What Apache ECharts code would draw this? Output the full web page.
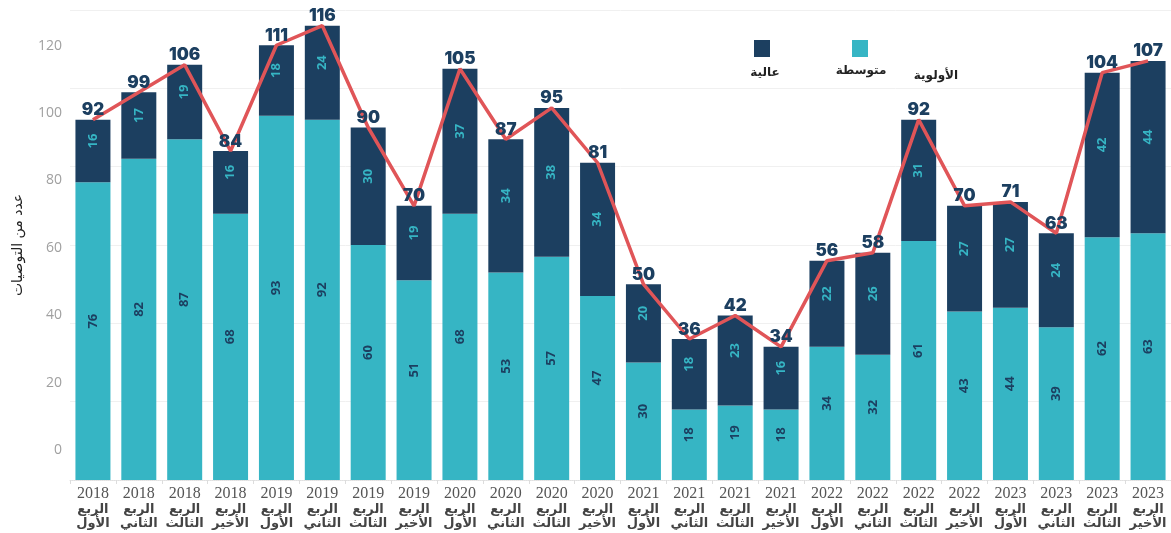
<!DOCTYPE html>
<html>
<head>
<meta charset="utf-8">
<script src="https://cdn.jsdelivr.net/npm/echarts@6/dist/echarts.min.js"></script>
<style>
  html, body { margin: 0; padding: 0; background: #fff; }
  #chart { width: 1171px; height: 533px; }
</style>
</head>
<body>
<div id="chart"></div>
<script>
// years and quarter names for the 24 columns
var years = ['2018','2018','2018','2018','2019','2019','2019','2019','2020','2020','2020','2020',
             '2021','2021','2021','2021','2022','2022','2022','2022','2023','2023','2023','2023'];
var quarters = ['الأول','الثاني','الثالث','الأخير'];

// متوسطة (teal, bottom) and عالية (navy, top)
var medium = [76, 82, 87, 68, 93, 92, 60, 51, 68, 53, 57, 47, 30, 18, 19, 18, 34, 32, 61, 43, 44, 39, 62, 63];
var high   = [16, 17, 19, 16, 18, 24, 30, 19, 37, 34, 38, 34, 20, 18, 23, 16, 22, 26, 31, 27, 27, 24, 42, 44];
var totals = [92, 99, 106, 84, 111, 116, 90, 70, 105, 87, 95, 81, 50, 36, 42, 34, 56, 58, 92, 70, 71, 63, 104, 107];

var yTicks = [0, 20, 40, 60, 80, 100, 120];

var teal = '#36B5C4';
var navy = '#1C3F60';
var red = '#E05558';

var categories = [];
for (var i = 0; i < years.length; i++) {
    categories.push(years[i] + '\n' + 'الربع' + '\n' + quarters[i % 4]);
}

var chart = echarts.init(document.getElementById('chart'));

var innerLabel = function (color) {
    return {
        show: true,
        position: 'inside',
        rotate: 90,
        offset: [10, 0],
        color: color,
        fontFamily: 'Open Sans',
        fontWeight: 'bold',
        fontSize: 13
    };
};

var option = {
    animation: false,
    grid: { left: 70, right: -5, top: 10, bottom: 53 },
    xAxis: {
        type: 'category',
        data: categories,
        axisLine: { lineStyle: { color: '#e0e0e0', type: 'dotted' } },
        axisTick: { show: true, length: 4, lineStyle: { color: '#dddddd' } },
        axisLabel: {
            interval: 0,
            margin: 6,
            formatter: function (v) {
                var p = v.split('\n');
                return '{y|' + p[0] + '}\n{q|' + p[1] + '}\n{q|' + p[2] + '}';
            },
            rich: {
                y: { fontFamily: 'Liberation Serif', fontSize: 16, color: '#555555', lineHeight: 16 },
                q: { fontFamily: 'DejaVu Sans', fontWeight: 'bold', fontSize: 13, color: '#444444', lineHeight: 14.5 }
            }
        }
    },
    yAxis: [
        {
            type: 'value',
            min: 0,
            max: 120,
            interval: 20,
            axisLabel: { show: false },
            axisLine: { show: false },
            axisTick: { show: false },
            splitLine: { lineStyle: { color: '#f0f0f0', width: 1 } }
        },
        {
            type: 'value',
            position: 'left',
            min: -8.9,
            max: 130.6,
            name: 'عدد من التوصيات',
            nameLocation: 'middle',
            nameRotate: 90,
            nameGap: 45,
            nameTextStyle: { fontFamily: 'DejaVu Sans', fontSize: 14, color: '#222222' },
            axisLine: { show: false },
            axisTick: { show: false },
            splitLine: { show: false },
            axisLabel: {
                customValues: yTicks,
                margin: 8,
                color: '#a0a0a0',
                fontFamily: 'Open Sans',
                fontSize: 14
            }
        }
    ],
    series: [
        {
            name: 'متوسطة',
            type: 'bar',
            stack: 'p',
            barWidth: 35,
            data: medium,
            itemStyle: { color: teal },
            label: innerLabel(navy)
        },
        {
            name: 'عالية',
            type: 'bar',
            stack: 'p',
            barWidth: 35,
            data: high,
            itemStyle: { color: navy },
            label: innerLabel(teal)
        },
        {
            name: 'المجموع',
            type: 'line',
            data: totals,
            symbol: 'circle',
            symbolSize: 0.1,
            showSymbol: true,
            z: 5,
            itemStyle: { color: red },
            lineStyle: { color: red, width: 3.5 },
            label: {
                show: true,
                position: 'top',
                distance: 1,
                color: navy,
                fontFamily: 'Inter',
                fontWeight: 900,
                fontSize: 17
            },
            labelLayout: { hideOverlap: false }
        }
    ],
    graphic: [
        { type: 'rect', left: 754, top: 40, shape: { width: 16, height: 17 }, style: { fill: navy } },
        { type: 'rect', left: 852, top: 40, shape: { width: 16, height: 17 }, style: { fill: teal } },
        { type: 'text', x: 765, y: 73, style: { text: 'عالية', fill: '#222', font: 'bold 12px "DejaVu Sans"', textAlign: 'center', textVerticalAlign: 'middle' } },
        { type: 'text', x: 861, y: 71, style: { text: 'متوسطة', fill: '#222', font: 'bold 12px "DejaVu Sans"', textAlign: 'center', textVerticalAlign: 'middle' } },
        { type: 'text', x: 936, y: 76, style: { text: 'الأولوية', fill: '#222', font: 'bold 12px "DejaVu Sans"', textAlign: 'center', textVerticalAlign: 'middle' } }
    ]
};

chart.setOption(option);
</script>
</body>
</html>
